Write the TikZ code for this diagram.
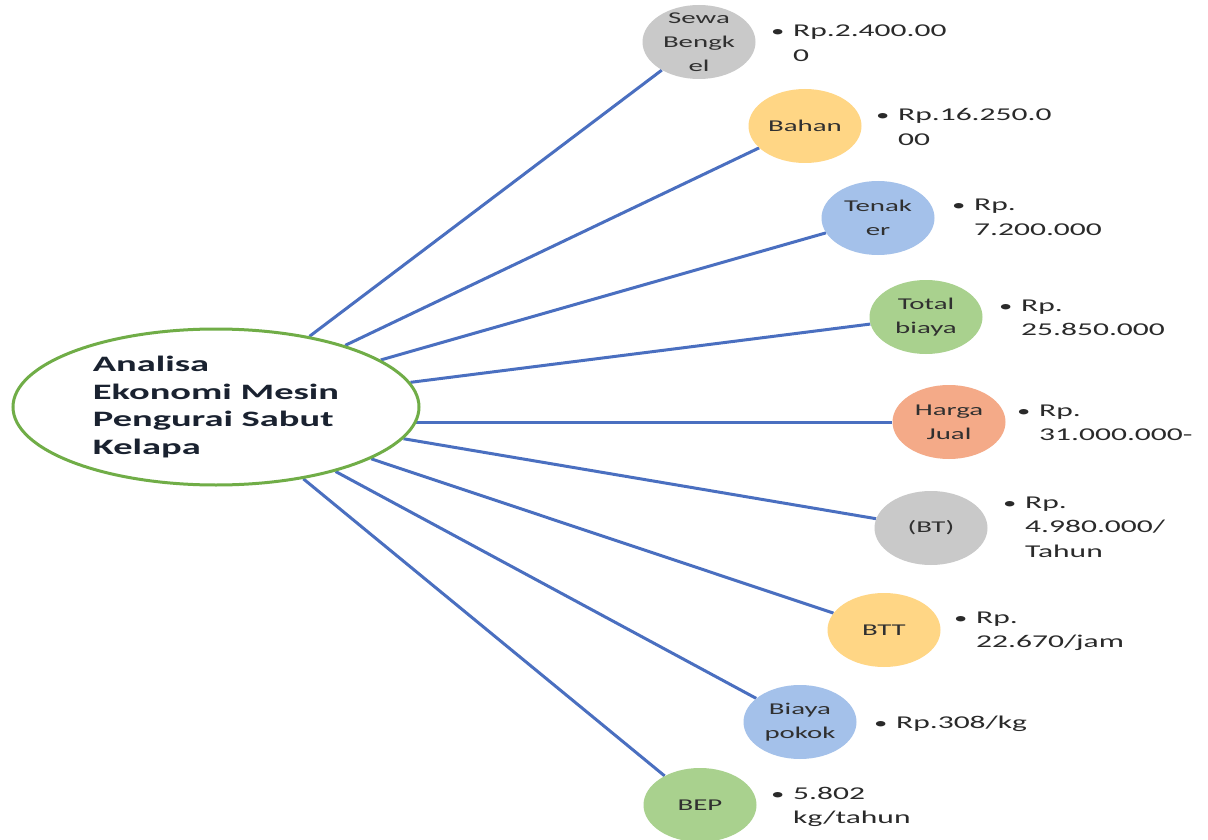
\documentclass[tikz,border=0pt]{standalone}
\usepackage{fontspec}
\setmainfont{Carlito}[FakeStretch=1.75]
\usetikzlibrary{shapes.geometric}
\pgfdeclarelayer{background}
\pgfsetlayers{background,main}
\definecolor{linkblue}{HTML}{4A6FC0}
\definecolor{maingreen}{HTML}{70AD47}
\definecolor{cgray}{HTML}{C9C9C9}
\definecolor{corange}{HTML}{FFD685}
\definecolor{cblue}{HTML}{A4C1EA}
\definecolor{cgreen}{HTML}{A9D18E}
\definecolor{csalmon}{HTML}{F4AA88}
\definecolor{labtext}{HTML}{303030}
\definecolor{valtext}{HTML}{2A2A2A}
\definecolor{maintext}{HTML}{1A2230}
\begin{document}
\begin{tikzpicture}[x=1pt,y=-1pt,
  bubble/.style 2 args={ellipse, minimum width=113pt, minimum height=74pt, inner sep=0pt, draw=none, fill=#1,
    label={[lab]center:#2}},
  lab/.style={font=\fontsize{16.5}{24}\selectfont, text=labtext, align=center, inner sep=0pt},
  val/.style={font=\fontsize{18}{24.5}\selectfont, text=valtext, anchor=base west, inner sep=0pt},
  link/.style={draw=linkblue, line width=3pt},
  mainbox/.style={ellipse, draw=maingreen, line width=3pt, fill=white, minimum width=406pt, minimum height=156pt, inner sep=0pt,
    label={[font=\bfseries\fontsize{22}{27.5}\selectfont, text=maintext, align=left, inner sep=0pt]center:#1}}
]
\useasboundingbox (0,0) rectangle (1208,840);
\begin{pgfonlayer}{background}
\fill[white] (0,0) rectangle (1208,840);
\end{pgfonlayer}

\newcommand{\vtab}[1]{\begin{tabular}[t]{@{}l@{}l@{}}#1\end{tabular}}
\newcommand{\bul}{\makebox[20pt][l]{\hspace{-2pt}\scalebox{0.85}{\textbullet}}}

% bubbles
\node[bubble={cgray}{Sewa\\Bengk\\el}] (sewa) at (699,42) {};
\node[bubble={corange}{Bahan}] (bahan) at (805,126) {};
\node[bubble={cblue}{Tenak\\er}] (tenaker) at (878,218) {};
\node[bubble={cgreen}{Total\\biaya}] (total) at (926,317) {};
\node[bubble={csalmon}{Harga\\Jual}] (harga) at (949,422) {};
\node[bubble={cgray}{(BT)}] (bt) at (931,528) {};
\node[bubble={corange}{BTT}] (btt) at (884,630) {};
\node[bubble={cblue}{Biaya\\pokok}] (pokok) at (800,722) {};
\node[bubble={cgreen}{BEP}] (bep) at (700,805) {};

% main ellipse
\node[mainbox={Analisa\\Ekonomi Mesin\\Pengurai Sabut\\Kelapa}] (main) at (216,407) {};

% connectors
\begin{pgfonlayer}{background}
\foreach \n in {sewa,bahan,tenaker,total,bt,btt,pokok,bep}
  \draw[link] (main) -- (\n);
\draw[link] (main.center |- harga.west) -- (harga);
\end{pgfonlayer}

% values
\node[val] (v1) at (773,37) {\vtab{\bul & Rp.2.400.00\\ & 0}};
\node[val] (v2) at (878,121) {\vtab{\bul & Rp.16.250.0\\ & 00}};
\node[val] (v3) at (954,211) {\vtab{\bul & Rp.\\ & 7.200.000}};
\node[val] (v4) at (1001,311) {\vtab{\bul & Rp.\\ & 25.850.000}};
\node[val] (v5) at (1019,416) {\vtab{\bul & Rp.\\ & 31.000.000-}};
\node[val] (v6) at (1005,508) {\vtab{\bul & Rp.\\ & 4.980.000/\\ & Tahun}};
\node[val] (v7) at (956,623) {\vtab{\bul & Rp.\\ & 22.670/jam}};
\node[val] (v8) at (876,728) {\vtab{\bul & Rp.308/kg}};
\node[val] (v9) at (773,799) {\vtab{\bul & 5.802\\ & kg/tahun}};
\end{tikzpicture}
\end{document}
